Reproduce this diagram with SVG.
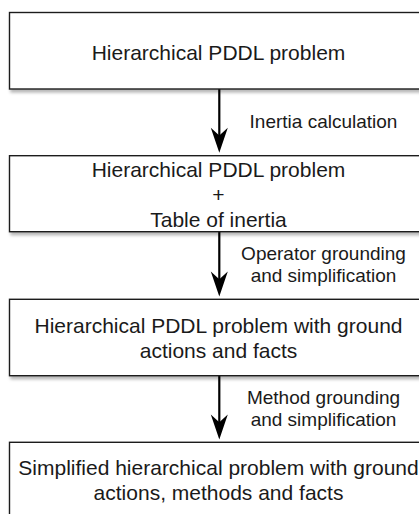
<svg xmlns="http://www.w3.org/2000/svg" width="419" height="514" viewBox="0 0 419 514">
<defs>
<style>
.box{fill:#fff;stroke:#1e1e1e;stroke-width:1.4;filter:url(#sh)}
.nt{font-family:"Liberation Sans",Arial,Helvetica,sans-serif;font-size:21px;fill:#1a1a1a;text-anchor:middle}
.lt{font-family:"Liberation Sans",Arial,Helvetica,sans-serif;font-size:19px;fill:#1a1a1a;text-anchor:middle}
.ln{stroke:#000;stroke-width:2.2;fill:none}
.ah{fill:#000;stroke:none}
</style>
<filter id="sh" x="-10%" y="-20%" width="130%" height="150%">
<feDropShadow dx="1.5" dy="3" stdDeviation="1.6" flood-color="#000" flood-opacity="0.28"/>
</filter>
</defs>
<rect width="419" height="514" fill="#fff"/>
<g id="connectors">
<line class="ln" x1="219.3" y1="89" x2="219.3" y2="140"/>
<path class="ah" d="M219.3,152.7 L210.8,127.7 L219.3,135.5 L227.8,127.7 Z"/>
<text class="lt" x="323.5" y="127.5">Inertia calculation</text>
<line class="ln" x1="219.3" y1="232" x2="219.3" y2="284"/>
<path class="ah" d="M219.3,296.5 L210.8,271.5 L219.3,279.3 L227.8,271.5 Z"/>
<text class="lt" x="323.5" y="260">Operator grounding</text>
<text class="lt" x="323.5" y="282">and simplification</text>
<line class="ln" x1="219.3" y1="376" x2="219.3" y2="427"/>
<path class="ah" d="M219.3,439.5 L210.8,414.5 L219.3,422.3 L227.8,414.5 Z"/>
<text class="lt" x="323.5" y="404">Method grounding</text>
<text class="lt" x="323.5" y="426">and simplification</text>
</g>
<g id="n1">
<rect class="box" x="9.5" y="12.5" width="430" height="76.5"/>
<text class="nt" x="218.5" y="59.5">Hierarchical PDDL problem</text>
</g>
<g id="n2">
<rect class="box" x="9.5" y="155.7" width="430" height="76"/>
<text class="nt" x="218.5" y="177">Hierarchical PDDL problem</text>
<text class="nt" x="218.5" y="202">+</text>
<text class="nt" x="218.5" y="227">Table of inertia</text>
</g>
<g id="n3">
<rect class="box" x="9.5" y="299.3" width="430" height="76.4"/>
<text class="nt" x="218.5" y="333">Hierarchical PDDL problem with ground</text>
<text class="nt" x="218.5" y="357.5">actions and facts</text>
</g>
<g id="n4">
<rect class="box" x="9.5" y="442.3" width="430" height="78"/>
<text class="nt" x="218.5" y="475">Simplified hierarchical problem with ground</text>
<text class="nt" x="218.5" y="500">actions, methods and facts</text>
</g>
</svg>
